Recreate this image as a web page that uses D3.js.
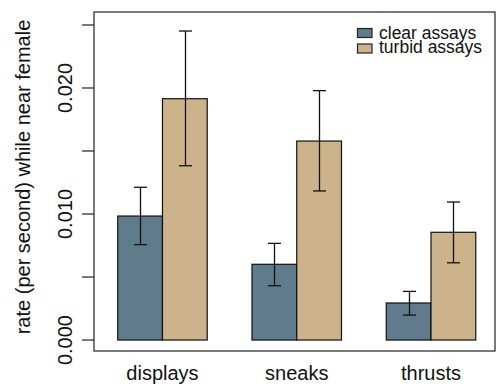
<!DOCTYPE html>
<html>
<head>
<meta charset="utf-8">
<script src="https://cdn.jsdelivr.net/npm/d3@7"></script>
<style>
  body { margin: 0; background: #fff; }
  svg { display: block; font-family: "Liberation Sans", Arial, sans-serif; }
</style>
</head>
<body>
<svg id="chart" width="496" height="386"></svg>
<script>
  // behaviours and conditions
  const behaviours = ['displays', 'sneaks', 'thrusts'];
  const conditions = ['clear assays', 'turbid assays'];
  const colours = ['#607b8b', '#cdb38b'];

  // mean rates (per second), one value per behaviour
  const clearMean = [0.00984, 0.00601, 0.00294];
  const turbidMean = [0.01915, 0.01579, 0.00855];
  const clearLo = [0.00757, 0.00431, 0.00198];
  const clearHi = [0.01212, 0.00767, 0.00386];
  const turbidLo = [0.01383, 0.01183, 0.00613];
  const turbidHi = [0.02452, 0.01979, 0.01095];

  const yTicks = [0, 0.005, 0.010, 0.015, 0.020, 0.025];
  const yTickLabels = ['0.000', '', '0.010', '', '0.020', ''];

  const svg = d3.select('#chart');
  const box = {left: 94, right: 495, top: 12, bottom: 351};

  // barplot units: each group is 2 bars + 1 gap
  const x = d3.scaleLinear().domain([0.47, 9.43]).range([box.left, box.right]);
  const y = d3.scaleLinear().domain([-0.00087, 0.02603]).range([box.bottom, box.top]);

  const bars = [];
  behaviours.forEach((b, i) => {
    const start = 1 + i * 3;
    bars.push({x0: start, x1: start + 1, v: clearMean[i], lo: clearLo[i], hi: clearHi[i], c: colours[0]});
    bars.push({x0: start + 1, x1: start + 2, v: turbidMean[i], lo: turbidLo[i], hi: turbidHi[i], c: colours[1]});
  });

  svg.selectAll('rect.bar').data(bars).enter().append('rect')
    .attr('class', 'bar')
    .attr('x', d => x(d.x0))
    .attr('width', d => x(d.x1) - x(d.x0))
    .attr('y', d => y(d.v))
    .attr('height', d => y(0) - y(d.v))
    .attr('fill', d => d.c)
    .attr('stroke', '#111')
    .attr('stroke-width', 1.2);

  // error bars
  const capHalf = 6.5;
  const err = svg.append('g').attr('stroke', '#111').attr('stroke-width', 1.3).attr('fill', 'none');
  bars.forEach(d => {
    const cx = Math.round(x((d.x0 + d.x1) / 2)) + 0.5;
    err.append('line').attr('x1', cx).attr('x2', cx).attr('y1', y(d.lo)).attr('y2', y(d.hi));
    err.append('line').attr('x1', cx - capHalf).attr('x2', cx + capHalf).attr('y1', y(d.lo)).attr('y2', y(d.lo));
    err.append('line').attr('x1', cx - capHalf).attr('x2', cx + capHalf).attr('y1', y(d.hi)).attr('y2', y(d.hi));
  });

  // frame
  svg.append('rect')
    .attr('x', box.left).attr('y', box.top)
    .attr('width', box.right - box.left).attr('height', box.bottom - box.top)
    .attr('fill', 'none').attr('stroke', '#222').attr('stroke-width', 1.2);

  // y axis ticks
  const yAxis = svg.append('g');
  yAxis.selectAll('line').data(yTicks).enter().append('line')
    .attr('x1', box.left - 12).attr('x2', box.left)
    .attr('y1', d => y(d)).attr('y2', d => y(d))
    .attr('stroke', '#222').attr('stroke-width', 1.2);
  yAxis.selectAll('text').data(yTicks).enter().append('text')
    .attr('transform', d => `translate(72,${y(d)}) rotate(-90)`)
    .attr('text-anchor', 'middle')
    .attr('font-size', 20)
    .attr('fill', '#111')
    .text((d, i) => yTickLabels[i]);

  svg.append('text')
    .attr('transform', `translate(29.5,${177}) rotate(-90)`)
    .attr('text-anchor', 'middle')
    .attr('font-size', 20)
    .attr('fill', '#111')
    .text('rate (per second) while near female');

  // x labels
  svg.selectAll('text.xl').data(behaviours).enter().append('text')
    .attr('class', 'xl')
    .attr('x', (d, i) => x(2 + i * 3))
    .attr('y', 379.5)
    .attr('text-anchor', 'middle')
    .attr('font-size', 20)
    .attr('fill', '#111')
    .text(d => d);

  // legend
  const leg = svg.append('g').attr('transform', 'translate(357,0)');
  conditions.forEach((c, i) => {
    leg.append('rect')
      .attr('x', 0.5).attr('y', 28.5 + i * 15.5)
      .attr('width', 14.5).attr('height', 9)
      .attr('fill', colours[i]).attr('stroke', '#222').attr('stroke-width', 1.2);
    leg.append('text')
      .attr('x', 22).attr('y', 38.7 + i * 14.3)
      .attr('font-size', 17.5)
      .attr('fill', '#111')
      .text(c);
  });
</script>
</body>
</html>
